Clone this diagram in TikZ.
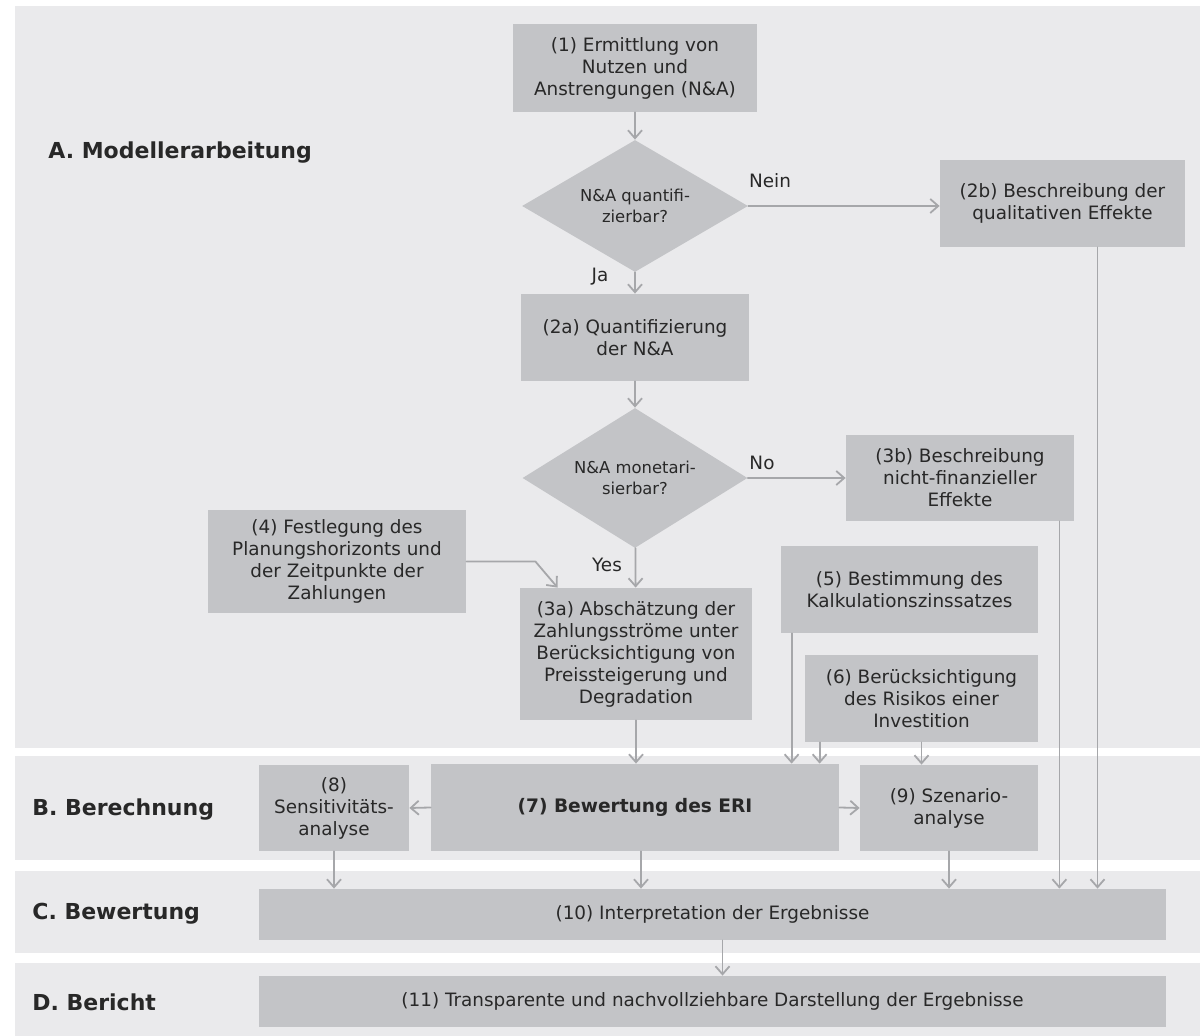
\documentclass[tikz,border=0pt]{standalone}
\usepackage{fontspec}
\setmainfont{DejaVu Sans}
\usetikzlibrary{shapes.geometric,arrows.meta}
\definecolor{bandgray}{RGB}{234,234,236}
\definecolor{boxgray}{RGB}{195,196,199}
\definecolor{linegray}{RGB}{166,167,170}
\definecolor{txtgray}{RGB}{40,40,40}
\begin{document}
\begin{tikzpicture}[x=0.5pt, y=-0.5pt, line join=round, line cap=round, >={Straight Barb[length=4pt,width=7pt]},
		box/.style={fill=boxgray, text=txtgray, align=center, inner sep=0pt, font=\fontsize{9.2}{11}\selectfont},
		decision/.style={diamond, aspect=1.7, fill=boxgray, text=txtgray, align=center, inner sep=0pt, font=\fontsize{8.2}{10.5}\selectfont},
		flow/.style={->, draw=linegray, line width=0.9pt},
		lbl/.style={text=txtgray, inner sep=0pt, font=\fontsize{9.2}{11}\selectfont},
		phase/.style={anchor=west, inner sep=0pt, text=txtgray, font=\fontsize{11}{13}\selectfont\bfseries}]
			\useasboundingbox (0,0) rectangle (1200,1036);
			% bands
			\fill[white] (0,0) rectangle (1200,1036);
			\fill[bandgray] (15,6) rectangle (1200,748);
			\fill[bandgray] (15,756) rectangle (1200,860);
			\fill[bandgray] (15,871) rectangle (1200,953);
			\fill[bandgray] (15,963) rectangle (1200,1036);
			\node[phase] (pa) at (48,153) {A. Modellerarbeitung};
			\node[phase] (pb) at (32,810) {B. Berechnung};
			\node[phase] (pc) at (32,914) {C. Bewertung};
			\node[phase] (pd) at (32,1002) {D. Bericht};
			% steps
			\node[box, minimum width=122pt, minimum height=44pt] (n1) at (635,68) {(1) Ermittlung von\\Nutzen und\\Anstrengungen (N\&A)};
			\node[decision, minimum width=113pt, minimum height=66pt] (q1) at (635,206) {N\&A quantifi-\\zierbar?};
			\node[box, minimum width=122.5pt, minimum height=43.5pt] (n2b) at (1062.5,203.5) {(2b) Beschreibung der\\qualitativen Effekte};
			\node[box, minimum width=114pt, minimum height=43.5pt] (n2a) at (635,337.5) {(2a) Quantifizierung\\der N\&A};
			\node[decision, minimum width=112.5pt, minimum height=70pt] (q2) at (635,478) {N\&A monetari-\\sierbar?};
			\node[box, minimum width=114pt, minimum height=43pt] (n3b) at (960,478) {(3b) Beschreibung\\nicht-finanzieller\\Effekte};
			\node[box, minimum width=116pt, minimum height=66pt] (n3a) at (636,654) {(3a) Abschätzung der\\Zahlungsströme unter\\Berücksichtigung von\\Preissteigerung und\\Degradation};
			\node[box, minimum width=129pt, minimum height=51.5pt] (n4) at (337,561.5) {(4) Festlegung des\\Planungshorizonts und\\der Zeitpunkte der\\Zahlungen};
			\node[box, minimum width=128.5pt, minimum height=43.5pt] (n5) at (909.5,589.5) {(5) Bestimmung des\\Kalkulationszinssatzes};
			\node[box, minimum width=116.5pt, minimum height=43.5pt] (n6) at (921.5,698.5) {(6) Berücksichtigung\\des Risikos einer\\Investition};
			\node[box, minimum width=204pt, minimum height=43.5pt, font=\fontsize{9.3}{11}\selectfont\bfseries] (n7) at (635,807.5) {(7) Bewertung des ERI};
			\node[box, minimum width=75pt, minimum height=43pt] (n8) at (334,808) {(8)\\Sensitivitäts-\\analyse};
			\node[box, minimum width=89pt, minimum height=43pt] (n9) at (949,808) {(9) Szenario-\\analyse};
			\node[box, minimum width=453.5pt, minimum height=25.5pt] (n10) at (712.5,914.5) {(10) Interpretation der Ergebnisse};
			\node[box, minimum width=453.5pt, minimum height=25.5pt] (n11) at (712.5,1001.5) {(11) Transparente und nachvollziehbare Darstellung der Ergebnisse};
			% branch labels
			\node[lbl] (nein) at (770,181) {Nein};
			\node[lbl] (ja) at (600,277) {Ja};
			\node[lbl] (no) at (762,463) {No};
			\node[lbl] (yes) at (607,565) {Yes};
			% connectors
			\coordinate (k4) at ([xshift=19pt]n3a.north west);
			\coordinate (k5) at ([xshift=5.5pt]n5.south west);
			\coordinate (k6) at ([xshift=7.5pt]n6.south west);
			\coordinate (k3b) at ([xshift=-7.5pt]n3b.south east);
			\coordinate (k2b) at ([xshift=17.5pt]n2b.south);
			\coordinate (k7) at ([xshift=3pt]n7.south);
			\coordinate (k10) at ([xshift=5pt]n10.south);
			\draw[flow] (n1) -- (q1);
			\draw[flow] (q1.east) -- (q1.east -| n2b.west);
			\draw[flow] (q1) -- (n2a);
			\draw[flow] (n2a) -- (q2);
			\draw[flow] (q2.east) -- (q2.east -| n3b.west);
			\draw[flow] (q2) -- (n3a);
			\draw[flow] (n4.east) -- ++(69,0) -- (k4);
			\draw[flow] (n3a.south) -- (n3a.south |- n7.north);
			\draw[flow] (k5) -- (k5 |- n7.north);
			\draw[flow] (k6) -- (k6 |- n7.north);
			\draw[flow] (n6.south) -- (n6.south |- n9.north);
			\draw[flow] (n7.west) -- (n8.east);
			\draw[flow] (n7.east) -- (n9.west);
			\draw[flow] (n8.south) -- (n8.south |- n10.north);
			\draw[flow] (k7) -- (k7 |- n10.north);
			\draw[flow] (n9.south) -- (n9.south |- n10.north);
			\draw[flow] (k3b) -- (k3b |- n10.north);
			\draw[flow] (k2b) -- (k2b |- n10.north);
			\draw[flow] (k10) -- (k10 |- n11.north);
		\end{tikzpicture}
\end{document}
